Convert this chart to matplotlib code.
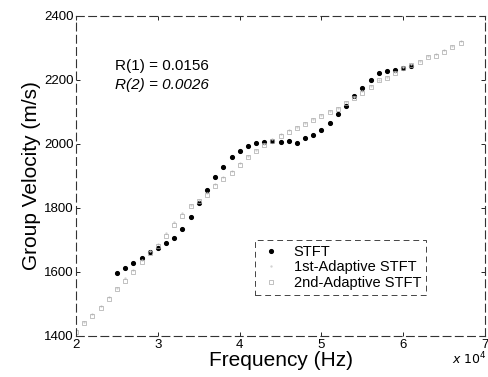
import matplotlib
matplotlib.use('Agg')
import matplotlib.pyplot as plt

plt.rcParams['font.family'] = ['Liberation Sans', 'DejaVu Sans']

# frequency in units of 1e4 Hz
stft_f = [2.5, 2.6, 2.7, 2.8, 2.9, 3.0, 3.1, 3.2, 3.3, 3.4, 3.5, 3.6, 3.7,
          3.8, 3.9, 4.0, 4.1, 4.2, 4.3, 4.4, 4.5, 4.6, 4.7, 4.8, 4.9, 5.0,
          5.1, 5.2, 5.3, 5.4, 5.5, 5.6, 5.7, 5.8, 5.9, 6.0, 6.1]
stft_v = [1598, 1613, 1627, 1643, 1662, 1676, 1690, 1705, 1733, 1770, 1815,
          1855, 1898, 1929, 1958, 1978, 1994, 2002, 2006, 2010, 2007, 2008,
          2004, 2018, 2027, 2044, 2065, 2092, 2117, 2148, 2175, 2199, 2221,
          2229, 2231, 2238, 2244]

adapt_f = [2.0, 2.1, 2.2, 2.3, 2.4, 2.5, 2.6, 2.7, 2.8, 2.9, 3.0, 3.1, 3.2,
           3.3, 3.4, 3.5, 3.6, 3.7, 3.8, 3.9, 4.0, 4.1, 4.2, 4.3, 4.4, 4.5,
           4.6, 4.7, 4.8, 4.9, 5.0, 5.1, 5.2, 5.3, 5.4, 5.5, 5.6, 5.7, 5.8,
           5.9, 6.0, 6.1, 6.2, 6.3, 6.4, 6.5, 6.6, 6.7]
adapt1_v = [1418, 1445, 1468, 1493, 1522, 1550, 1580, 1606, 1636, 1664, 1688,
            1720, 1755, 1783, 1810, 1826, 1848, 1874, 1895, 1915, 1940, 1962,
            1982, 1999, 2014, 2030, 2042, 2054, 2066, 2077, 2090, 2102, 2112,
            2131, 2147, 2165, 2182, 2201, 2210, 2225, 2240, 2250, 2260, 2273,
            2280, 2292, 2306, 2320]
adapt2_v = [1412, 1440, 1462, 1487, 1515, 1545, 1572, 1600, 1632, 1660, 1680,
            1712, 1748, 1776, 1805, 1820, 1840, 1868, 1890, 1910, 1935, 1958,
            1978, 1995, 2010, 2026, 2038, 2050, 2062, 2073, 2086, 2098, 2108,
            2127, 2143, 2160, 2178, 2198, 2206, 2222, 2236, 2246, 2256, 2270,
            2276, 2288, 2302, 2316]

fig = plt.figure(figsize=(4.88, 3.77), dpi=100)
ax = fig.add_axes([0.156, 0.109, 0.838, 0.849])

ax.plot(stft_f, stft_v, 'o', color='black', markersize=2.7, label='STFT')
ax.plot(adapt_f, adapt1_v, '.', color='#d0d0d0', markersize=1.3,
        label='1st-Adaptive STFT')
ax.plot(adapt_f, adapt2_v, 's', mfc='none', mec='#a8a8a8', mew=0.5,
        markersize=2.6, label='2nd-Adaptive STFT')

ax.set_xlim(2, 7)
ax.set_ylim(1400, 2400)
ax.set_xticks([2, 3, 4, 5, 6, 7])
ax.set_yticks([1400, 1600, 1800, 2000, 2200, 2400])
ax.tick_params(direction='in', length=3, labelsize=9.5, pad=2,
               top=True, right=True, width=0.6)
for s in ax.spines.values():
    s.set_linestyle((0, (7, 4)))
    s.set_linewidth(0.8)
    s.set_color('#333333')

ax.set_xlabel('Frequency (Hz)', fontsize=15, labelpad=0)
ax.set_ylabel('Group Velocity (m/s)', fontsize=15, labelpad=2)
fig.text(0.962, 0.035, r'$x\ 10^4$', fontsize=9, ha='center',
         fontstyle='italic')

ax.text(0.095, 0.83, 'R(1) = 0.0156', transform=ax.transAxes, fontsize=11)
ax.text(0.095, 0.77, 'R(2) = 0.0026', transform=ax.transAxes, fontsize=11,
        fontstyle='italic')

leg = ax.legend(loc='lower left', bbox_to_anchor=(0.42, 0.105), fontsize=10.5,
                handlelength=1.5, handletextpad=0.8, borderpad=0.35,
                labelspacing=0.1, fancybox=False, framealpha=1)
leg.get_frame().set_edgecolor('#444444')
leg.get_frame().set_linestyle((0, (6, 4)))
leg.get_frame().set_linewidth(0.7)

fig.savefig('out.png', dpi=100)
